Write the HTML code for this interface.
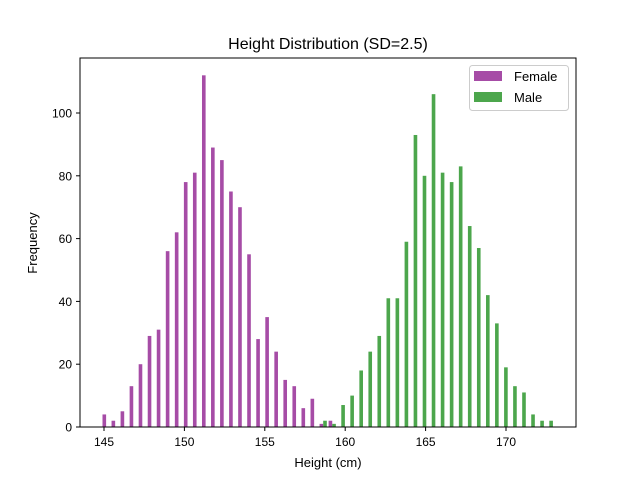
<!DOCTYPE html>
<html><head><meta charset="utf-8"><style>
body{margin:0;background:#fff;}
svg{font-family:"Liberation Sans","DejaVu Sans",sans-serif;}
</style></head><body>
<svg id="chart" width="640" height="480" viewBox="0 0 640 480">
<rect width="640" height="480" fill="#fff"/>
<text x="328" y="49" font-size="16" text-anchor="middle">Height Distribution (SD=2.5)</text>
<g id="bars"></g>
<g id="axes"></g>
<rect x="80" y="58" width="496" height="369" fill="none" stroke="#000" stroke-width="1"/>
<text x="328" y="467" font-size="13" text-anchor="middle">Height (cm)</text>
<text transform="translate(37,243) rotate(-90)" font-size="13" text-anchor="middle">Frequency</text>
<g>
<rect x="469.5" y="65.5" width="99" height="45" rx="3" fill="#fff" stroke="#ccc"/>
<rect x="474" y="71" width="28" height="10" fill="#a64ca6"/>
<text x="514" y="81" font-size="13">Female</text>
<rect x="474" y="92" width="28" height="10" fill="#4ca64c"/>
<text x="514" y="102" font-size="13">Male</text>
</g>
</svg>
<script>
const binStart = 144.85;
const binWidth = 0.5625;
const female = [4,2,5,13,20,29,31,56,62,78,81,112,89,85,75,70,55,28,35,24,15,13,6,9,1,2,0,0,0,0,0,0,0,0,0,0,0,0,0,0,0,0,0,0,0,0,0,0,0,0];
const male = [0,0,0,0,0,0,0,0,0,0,0,0,0,0,0,0,0,0,0,0,0,0,0,0,2,1,7,10,18,24,29,41,41,59,93,80,106,81,78,83,64,57,42,33,19,13,11,4,2,2];
const xTicks = [145,150,155,160,165,170];
const yTicks = [0,20,40,60,80,100];
const xs = v => 104 + (v - 145) * 16.08;
const ys = v => 427 - v * 3.14;
const NS = 'http://www.w3.org/2000/svg';
const bars = document.getElementById('bars');
const axes = document.getElementById('axes');
function mk(tag, attrs, parent){const e=document.createElementNS(NS,tag);for(const k in attrs)e.setAttribute(k,attrs[k]);parent.appendChild(e);return e;}
[[female,'#a64ca6','female',0.1],[male,'#4ca64c','male',0.5]].forEach(([arr,col,nm,off])=>{
  arr.forEach((v,i)=>{
    if(v<=0)return;
    const x0 = binStart + i*binWidth + off*binWidth;
    const x1 = x0 + 0.4*binWidth;
    const r = mk('rect',{x:xs(x0),y:ys(v),width:xs(x1)-xs(x0),height:ys(0)-ys(v),fill:col},bars);
    
    
  });
});
xTicks.forEach(t=>{
  const l = mk('line',{x1:xs(t),x2:xs(t),y1:427,y2:431,stroke:'#000'},axes);
  
  
  const tx = mk('text',{x:xs(t),y:446,'font-size':12,'text-anchor':'middle'},axes);
  tx.textContent = t;
  
  
});
yTicks.forEach(t=>{
  const l = mk('line',{x1:76,x2:80,y1:ys(t),y2:ys(t),stroke:'#000'},axes);
  
  
  const tx = mk('text',{x:72,y:ys(t)+4.5,'font-size':12,'text-anchor':'end'},axes);
  tx.textContent = t;
  
  
});
</script>
</body></html>
